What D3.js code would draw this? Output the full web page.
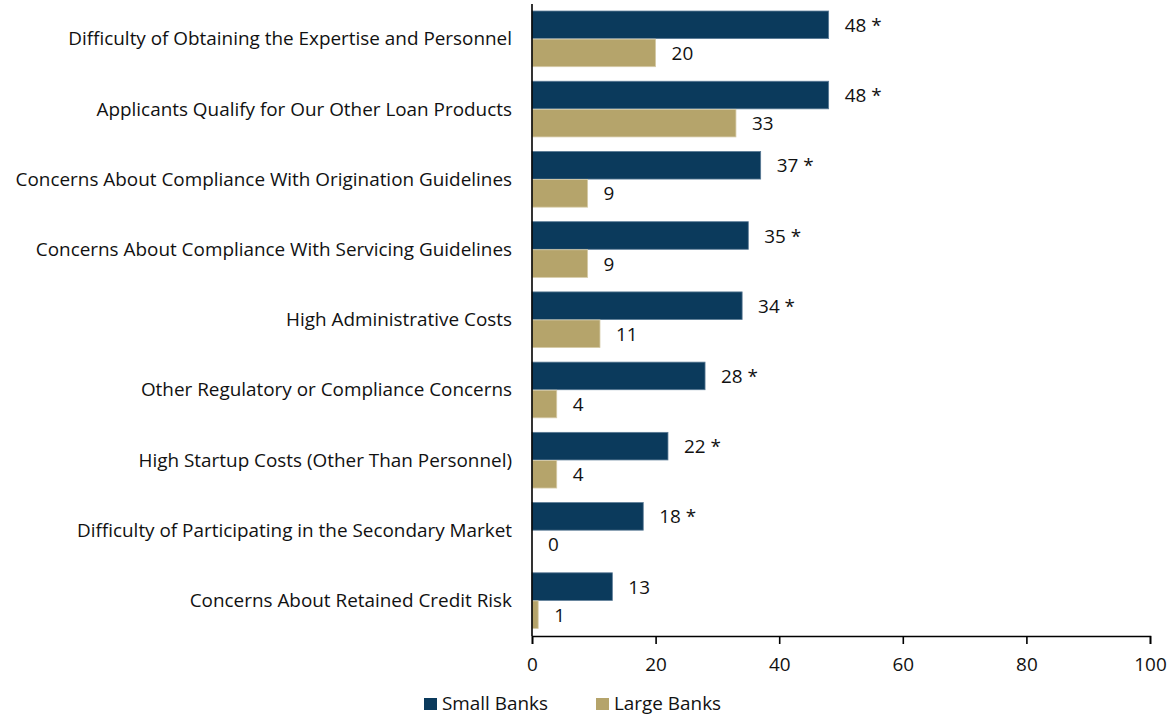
<!DOCTYPE html>
<html>
<head>
<meta charset="utf-8">
<script src="https://cdn.jsdelivr.net/npm/d3@7/dist/d3.min.js"></script>
<style>
  html, body { margin: 0; padding: 0; background: #fff; }
  svg { display: block; font-family: "Open Sans", "Noto Sans", sans-serif; }
</style>
</head>
<body>
<svg id="chart" width="1170" height="717"></svg>
<script>
// Share of banks citing each reason (percent)
const categories = [
  "Difficulty of Obtaining the Expertise and Personnel",
  "Applicants Qualify for Our Other Loan Products",
  "Concerns About Compliance With Origination Guidelines",
  "Concerns About Compliance With Servicing Guidelines",
  "High Administrative Costs",
  "Other Regulatory or Compliance Concerns",
  "High Startup Costs (Other Than Personnel)",
  "Difficulty of Participating in the Secondary Market",
  "Concerns About Retained Credit Risk"
];
const smallBanks = [48, 48, 37, 35, 34, 28, 22, 18, 13];
const largeBanks = [20, 33, 9, 9, 11, 4, 4, 0, 1];
// Asterisk marks a statistically significant difference
const significant = [true, true, true, true, true, true, true, true, false];
const series = ["Small Banks", "Large Banks"];
const xTicks = [0, 20, 40, 60, 80, 100];

const colors = { "Small Banks": "#0b3a5c", "Large Banks": "#b5a46b" };
const strokes = { "Small Banks": "#5a7a95", "Large Banks": "#d6cba8" };

const FS = 18.9;
const svg = d3.select("#chart");
const margin = { left: 532, right: 20, top: 4, bottom: 81 };
const W = 1170, H = 717;

const x = d3.scaleLinear().domain([0, 100]).range([margin.left, W - margin.right]);
const y = d3.scaleBand().domain(categories).range([margin.top, H - margin.bottom])
  .paddingInner(0.2).paddingOuter(0.1);
const sub = d3.scaleBand().domain(series).range([0, y.bandwidth()]).padding(0);

const rows = categories.map((c, i) => ({
  cat: c,
  vals: [
    { s: "Small Banks", v: smallBanks[i], star: significant[i] },
    { s: "Large Banks", v: largeBanks[i], star: false }
  ]
}));

const g = svg.selectAll("g.row").data(rows).join("g")
  .attr("class", "row")
  .attr("transform", d => `translate(0,${y(d.cat)})`);

g.selectAll("rect").data(d => d.vals).join("rect")
  .attr("x", x(0))
  .attr("y", d => sub(d.s))
  .attr("width", d => x(d.v) - x(0))
  .attr("height", sub.bandwidth() - 0.5)
  .attr("fill", d => colors[d.s])
  .attr("stroke", d => d.v > 0 ? strokes[d.s] : "none")
  .attr("stroke-width", 0.8);

g.selectAll("text.val").data(d => d.vals).join("text")
  .attr("class", "val")
  .attr("x", d => x(d.v) + 16)
  .attr("y", d => sub(d.s) + sub.bandwidth() / 2)
  .attr("dy", "0.36em")
  .attr("font-size", FS)
  .attr("fill", "#111")
  .text(d => d.v + (d.star ? " *" : ""));

// category labels
svg.selectAll("text.cat").data(categories).join("text")
  .attr("class", "cat")
  .attr("x", x(0) - 20)
  .attr("y", d => y(d) + y.bandwidth() / 2)
  .attr("dy", "0.33em")
  .attr("text-anchor", "end")
  .attr("font-size", FS)
  .attr("fill", "#111")
  .text(d => d);

// vertical baseline
svg.append("line")
  .attr("x1", x(0)).attr("x2", x(0))
  .attr("y1", margin.top).attr("y2", H - margin.bottom)
  .attr("stroke", "#000").attr("stroke-width", 1.6);

// x axis
const xAxis = svg.append("g")
  .attr("transform", `translate(0,${H - margin.bottom})`)
  .call(d3.axisBottom(x).tickValues(xTicks).tickSize(8).tickPadding(14).tickFormat(d3.format("d")));
xAxis.select(".domain").attr("stroke", "#000").attr("stroke-width", 1.6);
xAxis.selectAll(".tick line").attr("stroke", "#000").attr("stroke-width", 1.6);
xAxis.selectAll(".tick text").attr("font-size", FS).attr("fill", "#111")
  .attr("font-family", "'Open Sans', 'Noto Sans', sans-serif");

// legend
const legendItems = [
  { s: "Small Banks", x: 424 },
  { s: "Large Banks", x: 596 }
];
const lg = svg.selectAll("g.legend").data(legendItems).join("g")
  .attr("class", "legend")
  .attr("transform", d => `translate(${d.x},698)`);
lg.append("rect").attr("width", 13).attr("height", 12).attr("fill", d => colors[d.s]);
lg.append("text").attr("x", 18).attr("y", 6).attr("dy", "0.34em")
  .attr("font-size", FS).attr("fill", "#111").text(d => d.s);
</script>
</body>
</html>
